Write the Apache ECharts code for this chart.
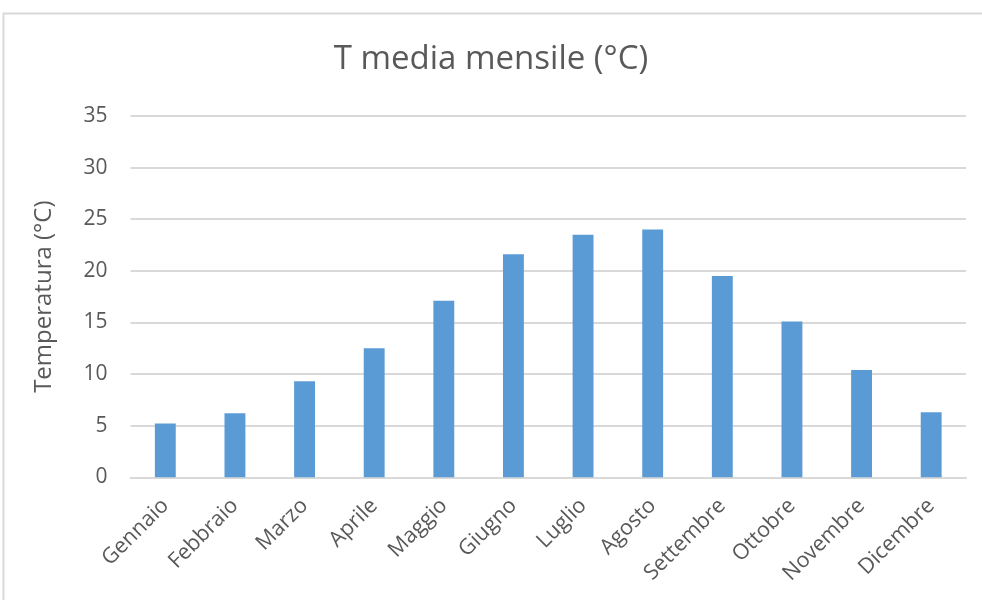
<!DOCTYPE html>
<html>
<head>
<meta charset="utf-8">
<script src="https://cdn.jsdelivr.net/npm/echarts@6/dist/echarts.min.js"></script>
<style>
  html, body { margin: 0; padding: 0; background: #fff; }
  #chart { width: 982px; height: 600px; }
</style>
</head>
<body>
<div id="chart"></div>
<script>
// Monthly mean temperature (°C)
const months = ['Gennaio', 'Febbraio', 'Marzo', 'Aprile', 'Maggio', 'Giugno',
                'Luglio', 'Agosto', 'Settembre', 'Ottobre', 'Novembre', 'Dicembre'];
const temperature = [5.2, 6.2, 9.3, 12.5, 17.1, 21.6, 23.5, 24.0, 19.5, 15.1, 10.4, 6.3];
const yTicks = [0, 5, 10, 15, 20, 25, 30, 35];

const FONT = '"Open Sans", "Noto Sans", sans-serif';
const TEXT = '#595959';

const chart = echarts.init(document.getElementById('chart'), null, { renderer: 'canvas' });

chart.setOption({
  backgroundColor: '#ffffff',
  animation: false,
  graphic: [{
    type: 'rect',
    shape: { x: 3.5, y: 13.5, width: 1000, height: 620 },
    style: { fill: 'none', stroke: '#d9d9d9', lineWidth: 2 },
    silent: true,
    z: -1
  }],
  title: {
    text: 'T media mensile (°C)',
    left: 'center',
    top: 38,
    textStyle: { fontFamily: FONT, fontSize: 33, fontWeight: 'normal', color: TEXT }
  },
  grid: { left: 130.5, right: 16, top: 116, bottom: 122.7, containLabel: false },
  xAxis: {
    type: 'category',
    data: months,
    axisTick: { show: false },
    axisLine: { show: true, lineStyle: { color: '#d9d9d9', width: 2 } },
    axisLabel: {
      rotate: 45,
      interval: 0,
      margin: 25,
      fontFamily: FONT,
      fontSize: 21.5,
      color: TEXT
    }
  },
  yAxis: {
    type: 'value',
    min: yTicks[0],
    max: yTicks[yTicks.length - 1],
    interval: yTicks[1] - yTicks[0],
    name: 'Temperatura (°C)',
    nameLocation: 'middle',
    nameGap: 74,
    nameTextStyle: { fontFamily: FONT, fontSize: 24, color: TEXT },
    axisLine: { show: false },
    axisTick: { show: false },
    axisLabel: { fontFamily: FONT, fontSize: 21, color: TEXT, margin: 23 },
    splitLine: { lineStyle: { color: '#d9d9d9', width: 2 } }
  },
  series: [{
    type: 'bar',
    data: temperature,
    barWidth: '30%',
    itemStyle: { color: '#5b9bd5' }
  }]
});
</script>
</body>
</html>
